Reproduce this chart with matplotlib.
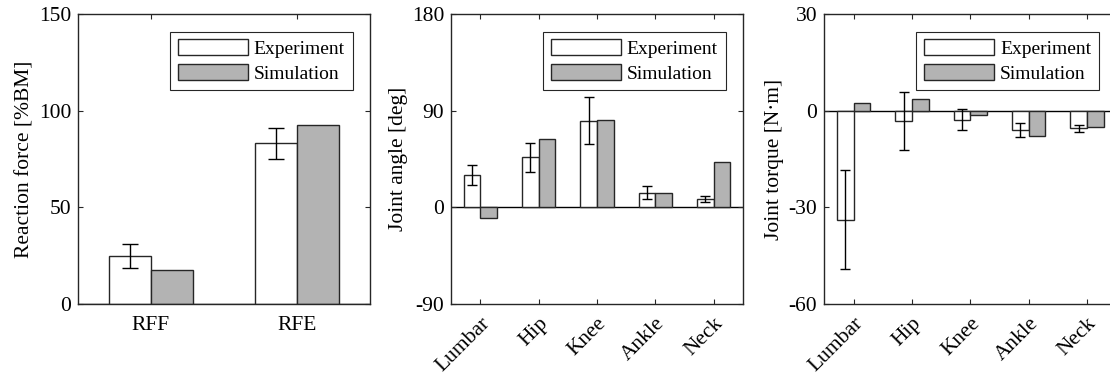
import numpy as np
import matplotlib.pyplot as plt

plt.rcParams['font.family'] = ['Liberation Serif', 'DejaVu Serif']
plt.rcParams['font.size'] = 15
plt.rcParams['axes.unicode_minus'] = False

# reaction force
force_labels = ['RFF', 'RFE']
force_exp = [24.7, 83.1]
force_exp_sd = [6.2, 8.1]
force_sim = [17.6, 92.8]

# joint angle
joints = ['Lumbar', 'Hip', 'Knee', 'Ankle', 'Neck']
angle_exp = [30.1, 46.5, 80.6, 13.6, 8.0]
angle_exp_sd = [9.6, 13.8, 22.0, 6.0, 2.6]
angle_sim = [-10.0, 63.6, 81.6, 13.3, 42.5]

# joint torque
torque_exp = [-33.8, -3.3, -2.8, -6.0, -5.4]
torque_exp_sd = [15.3, 9.0, 3.3, 2.2, 1.1]
torque_sim = [2.5, 3.5, -1.2, -7.9, -5.2]

edge = '#262626'
gray = '#b3b3b3'
w = 0.2857

fig = plt.figure(figsize=(11.1, 3.81), dpi=100)
lefts = [78 / 1110, 451 / 1110, 824.3 / 1110]
width = 292 / 1110
bottom = 77 / 381
height = 290 / 381


def draw(ax, labels, exp, sd, sim, ylim, yticks, ylabel, cap, rot):
    x = np.arange(1, len(labels) + 1)
    ax.bar(x - w / 2, exp, w, color='white', edgecolor=edge, linewidth=1, label='Experiment', zorder=2)
    ax.bar(x + w / 2, sim, w, color=gray, edgecolor=edge, linewidth=1, label='Simulation', zorder=2)
    ax.errorbar(x - w / 2, exp, yerr=sd, fmt='none', ecolor='black', elinewidth=1,
                capsize=cap, capthick=1, zorder=3)
    ax.axhline(0, color='black', linewidth=1, zorder=1)
    ax.set_xlim(0.5, len(labels) + 0.5)
    ax.set_ylim(*ylim)
    ax.set_yticks(yticks)
    ax.set_xticks(x)
    if rot:
        ax.set_xticklabels(labels, rotation=45, ha='right', rotation_mode='anchor')
    else:
        ax.set_xticklabels(labels)
    ax.set_ylabel(ylabel, fontsize=15.5, labelpad=3)
    ax.tick_params(direction='in', top=True, right=True, length=3.5, width=0.8,
                   labelsize=15.5, colors=edge, labelcolor='black', pad=5)
    ax.tick_params(axis='x', pad=9 if not rot else 7)
    for s in ax.spines.values():
        s.set_color(edge)
        s.set_linewidth(1)
    leg = ax.legend(loc='upper right', fancybox=False, edgecolor=edge, framealpha=1,
                    handlelength=3.6, handleheight=0.9, labelspacing=0.3,
                    handletextpad=0.3, borderaxespad=0.9, fontsize=14)
    leg.get_frame().set_linewidth(0.8)
    return ax


ax1 = fig.add_axes([lefts[0], bottom, width, height])
draw(ax1, force_labels, force_exp, force_exp_sd, force_sim, (0, 150), [0, 50, 100, 150],
     'Reaction force [%BM]', 6, False)

ax2 = fig.add_axes([lefts[1], bottom, width, height])
draw(ax2, joints, angle_exp, angle_exp_sd, angle_sim, (-90, 180), [-90, 0, 90, 180],
     'Joint angle [deg]', 3.5, True)

ax3 = fig.add_axes([lefts[2], bottom, width, height])
draw(ax3, joints, torque_exp, torque_exp_sd, torque_sim, (-60, 30), [-60, -30, 0, 30],
     'Joint torque [N\u00b7m]', 3.5, True)

fig.savefig('out.png', dpi=100)
